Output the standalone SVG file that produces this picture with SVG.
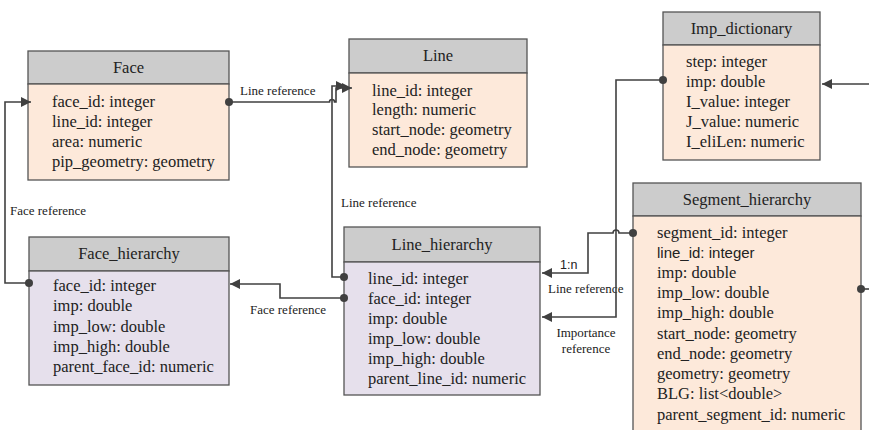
<svg xmlns="http://www.w3.org/2000/svg" width="869" height="430" viewBox="0 0 869 430">
<style>
.hd{fill:#cccccc;stroke:#555555;stroke-width:1.3}
.pe{fill:#fde9da;stroke:#555555;stroke-width:1.3}
.lv{fill:#e6e0ec;stroke:#555555;stroke-width:1.3}
.t{font-family:'Liberation Serif','DejaVu Serif',serif;font-size:16.5px;fill:#222;text-anchor:middle}
.f{font-family:'Liberation Serif','DejaVu Serif',serif;font-size:16.5px;fill:#222}
.fs{font-family:'Liberation Sans','DejaVu Sans',sans-serif;font-size:15px;fill:#222}
.lb{font-family:'Liberation Serif','DejaVu Serif',serif;font-size:13px;fill:#222}
.lbc{font-family:'Liberation Serif','DejaVu Serif',serif;font-size:13px;fill:#222;text-anchor:middle}
.c{fill:none;stroke:#404040;stroke-width:1.6}
.dot{fill:#404040}
</style>
<defs>
<marker id="ar" viewBox="0 0 10 10" refX="10" refY="5" markerWidth="12" markerHeight="10" markerUnits="userSpaceOnUse" orient="auto">
<path d="M0,0 L10,5 L0,10 z" fill="#404040"/>
</marker>
</defs>

<g id="face">
<rect class="hd" x="28" y="51" width="201" height="33"/>
<rect class="pe" x="28" y="84" width="201" height="96"/>
<text class="t" x="128.5" y="73">Face</text>
<text class="f" x="52" y="107">face_id: integer</text>
<text class="f" x="52" y="127">line_id: integer</text>
<text class="f" x="52" y="147">area: numeric</text>
<text class="f" x="52" y="167">pip_geometry: geometry</text>
</g>

<g id="line">
<rect class="hd" x="349" y="39" width="178" height="34"/>
<rect class="pe" x="349" y="73" width="178" height="94"/>
<text class="t" x="438" y="61">Line</text>
<text class="f" x="372" y="96">line_id: integer</text>
<text class="f" x="372" y="115">length: numeric</text>
<text class="f" x="372" y="135">start_node: geometry</text>
<text class="f" x="372" y="155">end_node: geometry</text>
</g>

<g id="imp_dictionary">
<rect class="hd" x="663" y="12" width="157" height="33"/>
<rect class="pe" x="663" y="45" width="157" height="115"/>
<text class="t" x="741.5" y="34">Imp_dictionary</text>
<text class="f" x="686" y="67">step: integer</text>
<text class="f" x="686" y="87">imp: double</text>
<text class="f" x="686" y="107">I_value: integer</text>
<text class="f" x="686" y="127">J_value: numeric</text>
<text class="f" x="686" y="147">I_eliLen: numeric</text>
</g>

<g id="face_hierarchy">
<rect class="hd" x="29" y="237" width="200" height="34"/>
<rect class="lv" x="29" y="271" width="200" height="114"/>
<text class="t" x="129" y="259">Face_hierarchy</text>
<text class="f" x="53" y="291">face_id: integer</text>
<text class="f" x="53" y="311">imp: double</text>
<text class="f" x="53" y="332">imp_low: double</text>
<text class="f" x="53" y="352">imp_high: double</text>
<text class="f" x="53" y="372">parent_face_id: numeric</text>
</g>

<g id="line_hierarchy">
<rect class="hd" x="344" y="227" width="196" height="35"/>
<rect class="lv" x="344" y="262" width="196" height="133"/>
<text class="t" x="442" y="250">Line_hierarchy</text>
<text class="f" x="368" y="284">line_id: integer</text>
<text class="f" x="368" y="304">face_id: integer</text>
<text class="f" x="368" y="324">imp: double</text>
<text class="f" x="368" y="344">imp_low: double</text>
<text class="f" x="368" y="364">imp_high: double</text>
<text class="f" x="368" y="384">parent_line_id: numeric</text>
</g>

<g id="segment_hierarchy">
<rect class="hd" x="633" y="183" width="228" height="33"/>
<rect class="pe" x="633" y="216" width="228" height="230"/>
<text class="t" x="747" y="205">Segment_hierarchy</text>
<text class="f" x="657" y="238">segment_id: integer</text>
<text class="fs" x="657" y="258">line_id: integer</text>
<text class="f" x="657" y="278">imp: double</text>
<text class="f" x="657" y="298">imp_low: double</text>
<text class="f" x="657" y="318">imp_high: double</text>
<text class="f" x="657" y="339">start_node: geometry</text>
<text class="f" x="657" y="359">end_node: geometry</text>
<text class="f" x="657" y="379">geometry: geometry</text>
<text class="f" x="657" y="399">BLG: list&lt;double&gt;</text>
<text class="f" x="657" y="420">parent_segment_id: numeric</text>
</g>

<g id="connectors">
<path class="c" d="M29,283 H5 V102 H31" marker-end="url(#ar)"/>
<circle class="dot" cx="29" cy="283" r="4"/>
<text class="lb" x="10" y="215">Face reference</text>

<path class="c" d="M229,102 H329.5 A2.5,2.5 0 0 1 334.5,102 H336 V88 H352" marker-end="url(#ar)"/>
<circle class="dot" cx="229" cy="102" r="4"/>
<text class="lb" x="240" y="95">Line reference</text>

<path class="c" d="M344,277 H332 V86 H346" marker-end="url(#ar)"/>
<circle class="dot" cx="344" cy="277" r="4"/>
<text class="lb" x="341" y="207">Line reference</text>

<path class="c" d="M344,298 H280 V284 H230" marker-end="url(#ar)"/>
<circle class="dot" cx="344" cy="298" r="4"/>
<text class="lb" x="250" y="314">Face reference</text>

<path class="c" d="M633,233 H619 A3,3 0 0 0 613,233 H588 V273 H542" marker-end="url(#ar)"/>
<circle class="dot" cx="633" cy="233" r="4"/>
<text class="fs" x="560" y="269" style="font-size:12.5px">1:n</text>
<text class="lb" x="548" y="293">Line reference</text>

<path class="c" d="M663,80 H616 V317 H542" marker-end="url(#ar)"/>
<circle class="dot" cx="663" cy="80" r="4"/>
<text class="lbc" x="586" y="337">Importance</text>
<text class="lbc" x="586" y="353">reference</text>

<path class="c" d="M869,84 H822" marker-end="url(#ar)"/>

<path class="c" d="M861,289 H869"/>
<circle class="dot" cx="861" cy="289" r="4"/>
</g>
</svg>
